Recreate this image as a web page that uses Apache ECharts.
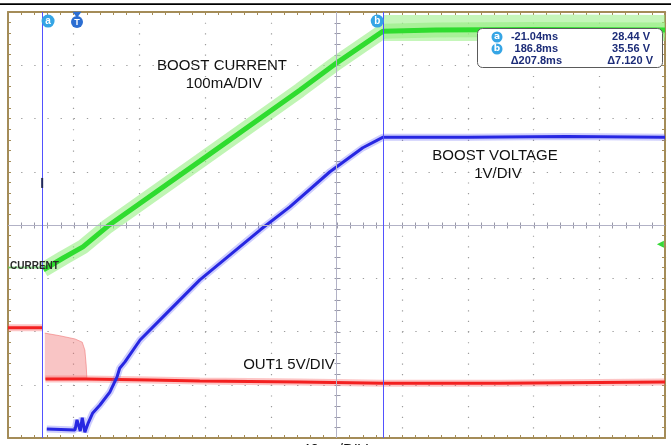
<!DOCTYPE html>
<html><head><meta charset="utf-8">
<script src="https://cdn.jsdelivr.net/npm/echarts@6/dist/echarts.min.js"></script>
<style>html,body{margin:0;padding:0;background:#fff;}#c{width:671px;height:445px;}</style>
</head><body><div id="c"></div>
<script>
// Scope screen in divisions: x = -5..5 (40 ms/div), y = -4..4
const xDivs = [-5, 5];
const yDivs = [-4, 4];
const cursorA = -4.48;   // -21.04 ms
const cursorB = 0.71;    // 186.8 ms

// BOOST CURRENT (green, 100mA/DIV)
const curPreT = [-5.0, -4.48];
const curPreV = [-0.80, -0.80];
const curT = [-4.46, -4.16, -3.86, -3.48, -2.08, -0.56, 0.01, 0.71, 1.5, 3.0, 5.0];
const curV = [-0.84, -0.62, -0.41, -0.02, 1.20, 2.53, 3.05, 3.64, 3.66, 3.67, 3.66];
// wide noise band after cursor b
const curFlatT = [0.71, 2.0, 3.5, 5.0];
const curFlatV = [3.70, 3.70, 3.71, 3.70];

// BOOST VOLTAGE (blue, 1V/DIV)
const voltT = [-4.41, -3.98, -3.95, -3.90, -3.87, -3.83, -3.78, -3.71, -3.60, -3.45, -3.34, -3.30, -3.22, -2.99, -2.58, -2.08, -1.62, -1.16, -0.71, -0.10, 0.40, 0.71, 2.0, 3.5, 5.0];
const voltV = [-3.83, -3.85, -3.66, -3.87, -3.62, -3.89, -3.72, -3.53, -3.38, -3.14, -2.85, -2.69, -2.57, -2.16, -1.65, -1.03, -0.56, -0.09, 0.34, 1.00, 1.45, 1.65, 1.65, 1.66, 1.65];

// OUT1 (red, 5V/DIV)
const outT = [-5.0, -4.47, -4.45, -4.43, -3.81, -2.84, -2.08, -0.56, 0.71, 2.49, 5.0];
const outV = [-1.93, -1.93, null, -2.89, -2.89, -2.91, -2.93, -2.95, -2.97, -2.97, -2.95];
// OUT1 switching envelope (pink band) top edge, floor at bandFloor
const bandT = [-4.44, -4.21, -3.98, -3.87, -3.83, -3.81, -3.80];
const bandV = [-2.03, -2.08, -2.14, -2.20, -2.35, -2.63, -2.87];
const bandFloor = -2.90;

const readoutLeft = ['-21.04ms', '186.8ms', '\u0394207.8ms'];
const readoutRight = ['28.44 V', '35.56 V', '\u03947.120 V'];

const pairs = (t, v) => t.map((x, i) => [x, v[i] == null ? '-' : v[i]]);

const FRAME = '#a48c58';
const DOT = '#9c9c9c';
const CTR = '#b2b2c6';
const CTRTICK = '#9898a8';

function splitAxis(isX) {
  const r = isX ? xDivs : yDivs;
  return {
    type: 'value', min: r[0], max: r[1], interval: 1, position: isX ? 'bottom' : 'left',
    axisLine: { show: false, onZero: false }, axisTick: { show: false }, axisLabel: { show: false },
    splitLine: { show: true, lineStyle: { color: DOT, width: 1.2, type: isX ? [1.2, 9.45] : [1.3, 11.84] } }
  };
}
function frameAxis(isX, pos) {
  const r = isX ? xDivs : yDivs;
  return {
    type: 'value', min: r[0], max: r[1], interval: 1, position: pos,
    axisLine: { show: true, onZero: false, lineStyle: { color: FRAME, width: 2 } },
    axisTick: { show: true, inside: true, length: 3, lineStyle: { color: FRAME } },
    minorTick: { show: true, splitNumber: 5, length: 3, lineStyle: { color: FRAME } },
    axisLabel: { show: false }, splitLine: { show: false }
  };
}

const chart = echarts.init(document.getElementById('c'));
const base = { type: 'line', xAxisIndex: 0, yAxisIndex: 0, symbol: 'none', silent: true, animation: false };
const FONT = '15px "Liberation Sans", Arial, sans-serif';
const RFONT = 'bold 11px "Liberation Sans", Arial, sans-serif';
const txt = (x, y, text, font, fill, align, va, z) => ({ type: 'text', x: x, y: y, z: z || 100,
  style: { text: text, font: font, fill: fill, align: align, verticalAlign: va } });

const baseGraphics = [
  { type: 'rect', shape: { x: 0, y: 3.3, width: 671, height: 1.8 }, style: { fill: '#000' }, z: 100 },
  txt(222, 66, 'BOOST CURRENT', FONT, '#111', 'center', 'middle'),
  txt(224, 84, '100mA/DIV', FONT, '#111', 'center', 'middle'),
  txt(495, 156, 'BOOST VOLTAGE', FONT, '#111', 'center', 'middle'),
  txt(498, 174, '1V/DIV', FONT, '#111', 'center', 'middle'),
  txt(289, 365, 'OUT1 5V/DIV', FONT, '#111', 'center', 'middle'),
  txt(335, 442, '40ms/DIV', FONT, '#111', 'center', 'top'),
  txt(10, 266, 'CURRENT', 'bold 10px "Liberation Sans", Arial, sans-serif', '#2a2a2a', 'left', 'middle'),
  { type: 'rect', shape: { x: 477.5, y: 28.5, width: 185, height: 39, r: 5 }, style: { fill: '#fff', stroke: '#5a5a5a', lineWidth: 1 }, z: 100 },
  { type: 'circle', shape: { cx: 497, cy: 37, r: 5.5 }, style: { fill: '#35a5e5' }, z: 101 },
  txt(497, 37, 'a', 'bold 9px "DejaVu Sans", sans-serif', '#fff', 'center', 'middle', 102),
  { type: 'circle', shape: { cx: 497, cy: 49, r: 5.5 }, style: { fill: '#35a5e5' }, z: 101 },
  txt(497, 49, 'b', 'bold 9px "DejaVu Sans", sans-serif', '#fff', 'center', 'middle', 102),
  txt(558, 37, readoutLeft[0], RFONT, '#1c2c78', 'right', 'middle', 101),
  txt(558, 49, readoutLeft[1], RFONT, '#1c2c78', 'right', 'middle', 101),
  txt(562, 61, readoutLeft[2], RFONT, '#1c2c78', 'right', 'middle', 101),
  txt(650, 37, readoutRight[0], RFONT, '#1c2c78', 'right', 'middle', 101),
  txt(650, 49, readoutRight[1], RFONT, '#1c2c78', 'right', 'middle', 101),
  txt(653, 61, readoutRight[2], RFONT, '#1c2c78', 'right', 'middle', 101)
];

const option = {
  animation: false,
  grid: { left: 8, top: 12, right: 6, bottom: 7 },
  xAxis: [splitAxis(true), frameAxis(true, 'bottom'), frameAxis(true, 'top')],
  yAxis: [splitAxis(false), frameAxis(false, 'left'), frameAxis(false, 'right')],
  series: [
    Object.assign({}, base, { name: 'bandFill', data: pairs(bandT, bandV), lineStyle: { color: 'rgba(238,110,110,0.55)', width: 1 },
      areaStyle: { color: 'rgba(240,105,105,0.55)', origin: bandFloor },
      markLine: { silent: true, symbol: 'none', label: { show: false }, animation: false,
        lineStyle: { color: CTR, width: 1, type: 'solid' },
        data: [{ xAxis: 0 }, { yAxis: 0 }] } }),
    Object.assign({}, base, { name: 'out1Halo', data: pairs(outT, outV), lineStyle: { color: 'rgba(250,90,90,0.35)', width: 7 } }),
    Object.assign({}, base, { name: 'out1', data: pairs(outT, outV), lineStyle: { color: '#f32020', width: 3 } }),
    Object.assign({}, base, { name: 'voltHalo', data: pairs(voltT, voltV), lineStyle: { color: 'rgba(90,90,250,0.3)', width: 7 } }),
    Object.assign({}, base, { name: 'volt', data: pairs(voltT, voltV), lineStyle: { color: '#2727e2', width: 3 } }),
    Object.assign({}, base, { name: 'curPre', data: pairs(curPreT, curPreV), lineStyle: { color: 'rgba(80,220,80,0.6)', width: 2 } }),
    Object.assign({}, base, { name: 'curFlatHalo', data: pairs(curFlatT, curFlatV), lineStyle: { color: 'rgba(150,238,130,0.55)', width: 26 } }),
    Object.assign({}, base, { name: 'curHalo', data: pairs(curT, curV), lineStyle: { color: 'rgba(150,238,130,0.6)', width: 15 } }),
    Object.assign({}, base, { name: 'current', data: pairs(curT, curV), lineStyle: { color: '#2fdc2f', width: 5 },
      markLine: { silent: true, symbol: 'none', label: { show: false }, animation: false,
        lineStyle: { color: '#5252ff', width: 1, type: 'solid' },
        data: [{ xAxis: cursorA }, { xAxis: cursorB }] },
      markPoint: { silent: true, animation: false, data: [
        { coord: [cursorA + 0.09, 3.83], symbol: 'circle', symbolSize: 13, itemStyle: { color: '#35a5e5' },
          label: { show: true, formatter: 'a', color: '#fff', fontSize: 10, fontWeight: 'bold', position: 'inside' } },
        { coord: [cursorB - 0.09, 3.83], symbol: 'circle', symbolSize: 13, itemStyle: { color: '#35a5e5' },
          label: { show: true, formatter: 'b', color: '#fff', fontSize: 10, fontWeight: 'bold', position: 'inside' } },
        { coord: [-3.95, 3.81], symbol: 'circle', symbolSize: 12, itemStyle: { color: '#2c6ed2' },
          label: { show: true, formatter: 'T', color: '#fff', fontSize: 9, fontWeight: 'bold', position: 'inside' } },
        { coord: [-3.95, 3.95], symbol: 'triangle', symbolRotate: 180, symbolSize: [9, 6], itemStyle: { color: '#2c6ed2' }, label: { show: false } },
        { coord: [cursorA, 0.79], symbol: 'rect', symbolSize: [2, 10], itemStyle: { color: '#20285a' }, label: { show: false } },
        { coord: [4.93, -0.36], symbol: 'triangle', symbolRotate: 90, symbolSize: [7, 7], itemStyle: { color: '#38d838' }, label: { show: false } }
      ] } })
  ],
  graphic: baseGraphics
};
chart.setOption(option);

// Small ticks crossing the centre lines, placed through the axes' own scales
try {
  const gx = v => chart.convertToPixel({ xAxisIndex: 0 }, v);
  const gy = v => chart.convertToPixel({ yAxisIndex: 0 }, v);
  const cx = Math.round(gx(0)) + 0.5, cy = Math.round(gy(0)) + 0.5;
  if ([cx, cy].every(isFinite)) {
    const els = [];
    for (let i = 1; i < (xDivs[1] - xDivs[0]) * 5; i++) {
      const px = Math.round(gx(xDivs[0] + i / 5)) + 0.5;
      els.push({ type: 'line', z: 1, silent: true, shape: { x1: px, y1: cy - 3, x2: px, y2: cy + 3 }, style: { stroke: CTRTICK, lineWidth: 1 } });
    }
    for (let i = 1; i < (yDivs[1] - yDivs[0]) * 5; i++) {
      const py = Math.round(gy(yDivs[0] + i / 5)) + 0.5;
      els.push({ type: 'line', z: 1, silent: true, shape: { x1: cx - 3, y1: py, x2: cx + 3, y2: py }, style: { stroke: CTRTICK, lineWidth: 1 } });
    }
    option.graphic = baseGraphics.concat(els);
    chart.setOption(option, true);
  }
} catch (e) { /* keep base chart */ }
</script></body></html>
